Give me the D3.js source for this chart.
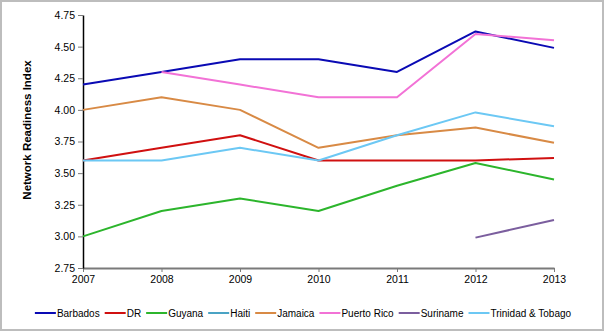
<!DOCTYPE html>
<html>
<head>
<meta charset="utf-8">
<script src="https://cdn.jsdelivr.net/npm/d3@7"></script>
<style>
  html, body { margin: 0; padding: 0; background: #fff; }
  svg { display: block; font-family: "Liberation Sans", Arial, sans-serif; }
  .tick text { font-size: 10.5px; fill: #000; }
  .legend text { font-size: 10px; fill: #000; }
</style>
</head>
<body>
<svg class="nri"></svg>
<script>
const YEARS = [2007, 2008, 2009, 2010, 2011, 2012, 2013]
const Y_TICKS = [2.75, 3.00, 3.25, 3.50, 3.75, 4.00, 4.25, 4.50, 4.75]

const BARBADOS = [4.20, 4.30, 4.40, 4.40, 4.30, 4.62, 4.49]
const DR = [3.60, 3.70, 3.80, 3.60, 3.60, 3.60, 3.62]
const GUYANA = [3.00, 3.20, 3.30, 3.20, 3.40, 3.58, 3.45]
const HAITI = [null, null, null, null, null, null, null]
const JAMAICA = [4.00, 4.10, 4.00, 3.70, 3.80, 3.86, 3.74]
const PUERTO_RICO = [null, 4.30, 4.20, 4.10, 4.10, 4.60, 4.55]
const SURINAME = [null, null, null, null, null, 2.99, 3.13]
const TRINIDAD = [3.60, 3.60, 3.70, 3.60, 3.80, 3.98, 3.87]

const SERIES_NAMES = ['Barbados', 'DR', 'Guyana', 'Haiti', 'Jamaica', 'Puerto Rico', 'Suriname', 'Trinidad & Tobago']
const SERIES_VALUES = [BARBADOS, DR, GUYANA, HAITI, JAMAICA, PUERTO_RICO, SURINAME, TRINIDAD]
const COLORS = ['#0a0ab4', '#d01010', '#2cb52c', '#4aa3c4', '#d88a45', '#f272d6', '#7b5e9e', '#6cc8f4']

const W = 606, H = 332
const svg = d3.select('svg.nri').attr('width', W).attr('height', H)

// outer frame
svg.append('rect')
  .attr('x', 1).attr('y', 1).attr('width', W - 4).attr('height', H - 3)
  .attr('fill', '#fff').attr('stroke', '#bdbdbd').attr('stroke-width', 2)

const xScale = d3.scalePoint()
  .domain(YEARS)
  .range([83, 554])

const yScale = d3.scaleLinear()
  .domain([2.75, 4.75])
  .range([268, 15])

// x axis
const xAxis = svg.append('g')
  .attr('transform', 'translate(0, 268)')
  .call(d3.axisBottom(xScale).tickSize(4).tickSizeOuter(0).tickPadding(4))
xAxis.select('.domain').attr('stroke', '#7a7a7a').attr('stroke-width', 2)
xAxis.selectAll('.tick line').attr('stroke', '#7a7a7a')

// y axis
const yAxis = svg.append('g')
  .attr('transform', 'translate(83, 0)')
  .call(d3.axisLeft(yScale).tickValues(Y_TICKS).tickFormat(d3.format('.2f')).tickSize(5).tickSizeOuter(0).tickPadding(3))
yAxis.select('.domain').attr('stroke', '#000').attr('stroke-width', 1.5)
yAxis.selectAll('.tick line').attr('stroke', '#7a7a7a')

// y label
svg.append('text')
  .attr('transform', 'translate(31, 130) rotate(-90)')
  .attr('text-anchor', 'middle')
  .style('font-size', '11.5px')
  .style('font-weight', 'bold')
  .text('Network Readiness Index')

// lines
const line = d3.line()
  .defined(d => d.v != null)
  .x(d => xScale(d.year))
  .y(d => yScale(d.v))

SERIES_VALUES.forEach((vals, i) => {
  svg.append('path')
    .datum(vals.map((v, j) => ({ year: YEARS[j], v })))
    .attr('d', line)
    .attr('fill', 'none')
    .attr('stroke', COLORS[i])
    .attr('stroke-width', 2)
    .attr('stroke-linejoin', 'round')
})

// legend
const legend = svg.append('g').attr('class', 'legend')
let lx = 0
SERIES_NAMES.forEach((name, i) => {
  const g = legend.append('g').attr('transform', `translate(${lx}, 0)`)
  g.append('line')
    .attr('x1', 0).attr('x2', 21).attr('y1', 0).attr('y2', 0)
    .attr('stroke', COLORS[i]).attr('stroke-width', 2)
  const t = g.append('text')
    .attr('x', 22).attr('y', 3.5)
    .text(name)
  lx += 22 + t.node().getComputedTextLength() + 5
})
legend.attr('transform', `translate(${(W - (lx - 5)) / 2}, 313)`)
</script>
</body>
</html>
